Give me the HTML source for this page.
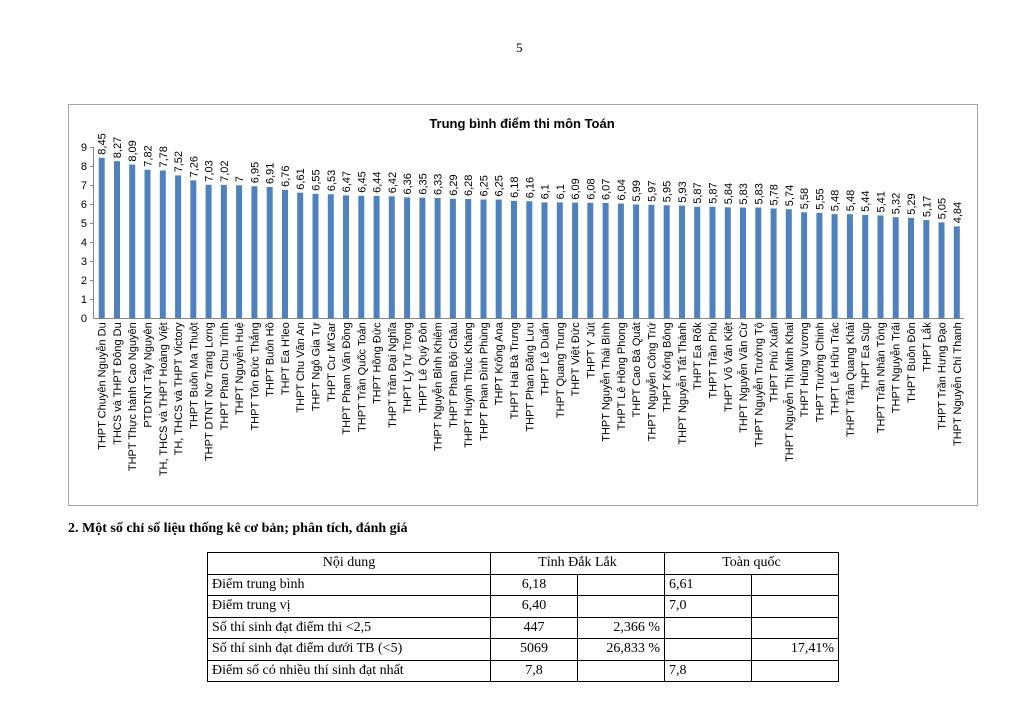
<!DOCTYPE html>
<html><head><meta charset="utf-8"><style>
body{margin:0;width:1024px;height:719px;background:#fff;position:relative;overflow:hidden;font-family:"Liberation Serif",serif}
.pn{position:absolute;left:516px;top:40px;font-size:13px}
.h2{position:absolute;left:68px;top:521px;font-size:14px;font-weight:bold}
table{position:absolute;left:207px;top:552px;border-collapse:collapse;font-size:14px}
td{border:1px solid #000;height:20.5px;padding:0 4px;line-height:20px}
</style></head><body>
<div class="pn">5</div>
<svg width="1024" height="719" style="position:absolute;left:0;top:0" font-family="Liberation Sans, sans-serif">
<rect x="68.5" y="104.5" width="909" height="401" fill="#fff" stroke="#a6a6a6"/>
<text x="522" y="128" text-anchor="middle" font-size="13" font-weight="bold">Trung bình điểm thi môn Toán</text>
<g font-size="11" fill="#000" text-anchor="end">
<text x="87" y="322">0</text><text x="87" y="303">1</text><text x="87" y="284">2</text><text x="87" y="265">3</text><text x="87" y="246">4</text><text x="87" y="227">5</text><text x="87" y="208">6</text><text x="87" y="189">7</text><text x="87" y="170">8</text><text x="87" y="151">9</text>
</g>
<g stroke="#868686" stroke-width="1">
<line x1="93.5" y1="147" x2="93.5" y2="318.5"/>
<line x1="93.5" y1="318.5" x2="964" y2="318.5"/>
<line x1="90" y1="147.5" x2="93.5" y2="147.5"/><line x1="90" y1="166.5" x2="93.5" y2="166.5"/><line x1="90" y1="185.5" x2="93.5" y2="185.5"/><line x1="90" y1="204.5" x2="93.5" y2="204.5"/><line x1="90" y1="223.5" x2="93.5" y2="223.5"/><line x1="90" y1="242.5" x2="93.5" y2="242.5"/><line x1="90" y1="261.5" x2="93.5" y2="261.5"/><line x1="90" y1="280.5" x2="93.5" y2="280.5"/><line x1="90" y1="299.5" x2="93.5" y2="299.5"/>
</g>
<g font-size="11" fill="#000">
<g transform="translate(101.7,318.3)"><rect x="-3" width="6" height="8.45" transform="scale(1,-19)" fill="#4f81bd"/><text transform="rotate(-90)" x="163.6" y="4">8,45</text><text transform="rotate(-90)" x="-4" y="4" text-anchor="end">THPT Chuyên Nguyễn Du</text></g>
<g transform="translate(117,318.3)"><rect x="-3" width="6" height="8.27" transform="scale(1,-19)" fill="#4f81bd"/><text transform="rotate(-90)" x="160.1" y="4">8,27</text><text transform="rotate(-90)" x="-4" y="4" text-anchor="end">THCS và THPT Đông Du</text></g>
<g transform="translate(132.2,318.3)"><rect x="-3" width="6" height="8.09" transform="scale(1,-19)" fill="#4f81bd"/><text transform="rotate(-90)" x="156.7" y="4">8,09</text><text transform="rotate(-90)" x="-4" y="4" text-anchor="end">THPT Thực hành Cao Nguyên</text></g>
<g transform="translate(147.5,318.3)"><rect x="-3" width="6" height="7.82" transform="scale(1,-19)" fill="#4f81bd"/><text transform="rotate(-90)" x="151.6" y="4">7,82</text><text transform="rotate(-90)" x="-4" y="4" text-anchor="end">PTDTNT Tây Nguyên</text></g>
<g transform="translate(162.8,318.3)"><rect x="-3" width="6" height="7.78" transform="scale(1,-19)" fill="#4f81bd"/><text transform="rotate(-90)" x="150.8" y="4">7,78</text><text transform="rotate(-90)" x="-4" y="4" text-anchor="end">TH, THCS và THPT Hoàng Việt</text></g>
<g transform="translate(178.1,318.3)"><rect x="-3" width="6" height="7.52" transform="scale(1,-19)" fill="#4f81bd"/><text transform="rotate(-90)" x="145.9" y="4">7,52</text><text transform="rotate(-90)" x="-4" y="4" text-anchor="end">TH, THCS và THPT Victory</text></g>
<g transform="translate(193.3,318.3)"><rect x="-3" width="6" height="7.26" transform="scale(1,-19)" fill="#4f81bd"/><text transform="rotate(-90)" x="140.9" y="4">7,26</text><text transform="rotate(-90)" x="-4" y="4" text-anchor="end">THPT Buôn Ma Thuột</text></g>
<g transform="translate(208.6,318.3)"><rect x="-3" width="6" height="7.03" transform="scale(1,-19)" fill="#4f81bd"/><text transform="rotate(-90)" x="136.6" y="4">7,03</text><text transform="rotate(-90)" x="-4" y="4" text-anchor="end">THPT DTNT Nơ Trang Lơng</text></g>
<g transform="translate(223.9,318.3)"><rect x="-3" width="6" height="7.02" transform="scale(1,-19)" fill="#4f81bd"/><text transform="rotate(-90)" x="136.4" y="4">7,02</text><text transform="rotate(-90)" x="-4" y="4" text-anchor="end">THPT Phan Chu Trinh</text></g>
<g transform="translate(239.1,318.3)"><rect x="-3" width="6" height="7" transform="scale(1,-19)" fill="#4f81bd"/><text transform="rotate(-90)" x="136" y="4">7</text><text transform="rotate(-90)" x="-4" y="4" text-anchor="end">THPT Nguyễn Huệ</text></g>
<g transform="translate(254.4,318.3)"><rect x="-3" width="6" height="6.95" transform="scale(1,-19)" fill="#4f81bd"/><text transform="rotate(-90)" x="135.1" y="4">6,95</text><text transform="rotate(-90)" x="-4" y="4" text-anchor="end">THPT Tôn Đức Thắng</text></g>
<g transform="translate(269.7,318.3)"><rect x="-3" width="6" height="6.91" transform="scale(1,-19)" fill="#4f81bd"/><text transform="rotate(-90)" x="134.3" y="4">6,91</text><text transform="rotate(-90)" x="-4" y="4" text-anchor="end">THPT Buôn Hồ</text></g>
<g transform="translate(285,318.3)"><rect x="-3" width="6" height="6.76" transform="scale(1,-19)" fill="#4f81bd"/><text transform="rotate(-90)" x="131.4" y="4">6,76</text><text transform="rotate(-90)" x="-4" y="4" text-anchor="end">THPT Ea H'leo</text></g>
<g transform="translate(300.2,318.3)"><rect x="-3" width="6" height="6.61" transform="scale(1,-19)" fill="#4f81bd"/><text transform="rotate(-90)" x="128.6" y="4">6,61</text><text transform="rotate(-90)" x="-4" y="4" text-anchor="end">THPT Chu Văn An</text></g>
<g transform="translate(315.5,318.3)"><rect x="-3" width="6" height="6.55" transform="scale(1,-19)" fill="#4f81bd"/><text transform="rotate(-90)" x="127.5" y="4">6,55</text><text transform="rotate(-90)" x="-4" y="4" text-anchor="end">THPT Ngô Gia Tự</text></g>
<g transform="translate(330.8,318.3)"><rect x="-3" width="6" height="6.53" transform="scale(1,-19)" fill="#4f81bd"/><text transform="rotate(-90)" x="127.1" y="4">6,53</text><text transform="rotate(-90)" x="-4" y="4" text-anchor="end">THPT Cư M'Gar</text></g>
<g transform="translate(346,318.3)"><rect x="-3" width="6" height="6.47" transform="scale(1,-19)" fill="#4f81bd"/><text transform="rotate(-90)" x="125.9" y="4">6,47</text><text transform="rotate(-90)" x="-4" y="4" text-anchor="end">THPT Phạm Văn Đồng</text></g>
<g transform="translate(361.3,318.3)"><rect x="-3" width="6" height="6.45" transform="scale(1,-19)" fill="#4f81bd"/><text transform="rotate(-90)" x="125.6" y="4">6,45</text><text transform="rotate(-90)" x="-4" y="4" text-anchor="end">THPT Trần Quốc Toản</text></g>
<g transform="translate(376.6,318.3)"><rect x="-3" width="6" height="6.44" transform="scale(1,-19)" fill="#4f81bd"/><text transform="rotate(-90)" x="125.4" y="4">6,44</text><text transform="rotate(-90)" x="-4" y="4" text-anchor="end">THPT Hồng Đức</text></g>
<g transform="translate(391.8,318.3)"><rect x="-3" width="6" height="6.42" transform="scale(1,-19)" fill="#4f81bd"/><text transform="rotate(-90)" x="125" y="4">6,42</text><text transform="rotate(-90)" x="-4" y="4" text-anchor="end">THPT Trần Đại Nghĩa</text></g>
<g transform="translate(407.1,318.3)"><rect x="-3" width="6" height="6.36" transform="scale(1,-19)" fill="#4f81bd"/><text transform="rotate(-90)" x="123.8" y="4">6,36</text><text transform="rotate(-90)" x="-4" y="4" text-anchor="end">THPT Lý Tự Trọng</text></g>
<g transform="translate(422.4,318.3)"><rect x="-3" width="6" height="6.35" transform="scale(1,-19)" fill="#4f81bd"/><text transform="rotate(-90)" x="123.7" y="4">6,35</text><text transform="rotate(-90)" x="-4" y="4" text-anchor="end">THPT Lê Quý Đôn</text></g>
<g transform="translate(437.6,318.3)"><rect x="-3" width="6" height="6.33" transform="scale(1,-19)" fill="#4f81bd"/><text transform="rotate(-90)" x="123.3" y="4">6,33</text><text transform="rotate(-90)" x="-4" y="4" text-anchor="end">THPT Nguyễn Bỉnh Khiêm</text></g>
<g transform="translate(452.9,318.3)"><rect x="-3" width="6" height="6.29" transform="scale(1,-19)" fill="#4f81bd"/><text transform="rotate(-90)" x="122.5" y="4">6,29</text><text transform="rotate(-90)" x="-4" y="4" text-anchor="end">THPT Phan Bội Châu</text></g>
<g transform="translate(468.2,318.3)"><rect x="-3" width="6" height="6.28" transform="scale(1,-19)" fill="#4f81bd"/><text transform="rotate(-90)" x="122.3" y="4">6,28</text><text transform="rotate(-90)" x="-4" y="4" text-anchor="end">THPT Huỳnh Thúc Kháng</text></g>
<g transform="translate(483.5,318.3)"><rect x="-3" width="6" height="6.25" transform="scale(1,-19)" fill="#4f81bd"/><text transform="rotate(-90)" x="121.8" y="4">6,25</text><text transform="rotate(-90)" x="-4" y="4" text-anchor="end">THPT Phan Đình Phùng</text></g>
<g transform="translate(498.7,318.3)"><rect x="-3" width="6" height="6.25" transform="scale(1,-19)" fill="#4f81bd"/><text transform="rotate(-90)" x="121.8" y="4">6,25</text><text transform="rotate(-90)" x="-4" y="4" text-anchor="end">THPT Krông Ana</text></g>
<g transform="translate(514,318.3)"><rect x="-3" width="6" height="6.18" transform="scale(1,-19)" fill="#4f81bd"/><text transform="rotate(-90)" x="120.4" y="4">6,18</text><text transform="rotate(-90)" x="-4" y="4" text-anchor="end">THPT Hai Bà Trưng</text></g>
<g transform="translate(529.3,318.3)"><rect x="-3" width="6" height="6.16" transform="scale(1,-19)" fill="#4f81bd"/><text transform="rotate(-90)" x="120" y="4">6,16</text><text transform="rotate(-90)" x="-4" y="4" text-anchor="end">THPT Phan Đăng Lưu</text></g>
<g transform="translate(544.5,318.3)"><rect x="-3" width="6" height="6.1" transform="scale(1,-19)" fill="#4f81bd"/><text transform="rotate(-90)" x="118.9" y="4">6,1</text><text transform="rotate(-90)" x="-4" y="4" text-anchor="end">THPT Lê Duẩn</text></g>
<g transform="translate(559.8,318.3)"><rect x="-3" width="6" height="6.1" transform="scale(1,-19)" fill="#4f81bd"/><text transform="rotate(-90)" x="118.9" y="4">6,1</text><text transform="rotate(-90)" x="-4" y="4" text-anchor="end">THPT Quang Trung</text></g>
<g transform="translate(575.1,318.3)"><rect x="-3" width="6" height="6.09" transform="scale(1,-19)" fill="#4f81bd"/><text transform="rotate(-90)" x="118.7" y="4">6,09</text><text transform="rotate(-90)" x="-4" y="4" text-anchor="end">THPT Việt Đức</text></g>
<g transform="translate(590.3,318.3)"><rect x="-3" width="6" height="6.08" transform="scale(1,-19)" fill="#4f81bd"/><text transform="rotate(-90)" x="118.5" y="4">6,08</text><text transform="rotate(-90)" x="-4" y="4" text-anchor="end">THPT Y Jút</text></g>
<g transform="translate(605.6,318.3)"><rect x="-3" width="6" height="6.07" transform="scale(1,-19)" fill="#4f81bd"/><text transform="rotate(-90)" x="118.3" y="4">6,07</text><text transform="rotate(-90)" x="-4" y="4" text-anchor="end">THPT Nguyễn Thái Bình</text></g>
<g transform="translate(620.9,318.3)"><rect x="-3" width="6" height="6.04" transform="scale(1,-19)" fill="#4f81bd"/><text transform="rotate(-90)" x="117.8" y="4">6,04</text><text transform="rotate(-90)" x="-4" y="4" text-anchor="end">THPT Lê Hồng Phong</text></g>
<g transform="translate(636.1,318.3)"><rect x="-3" width="6" height="5.99" transform="scale(1,-19)" fill="#4f81bd"/><text transform="rotate(-90)" x="116.8" y="4">5,99</text><text transform="rotate(-90)" x="-4" y="4" text-anchor="end">THPT Cao Bá Quát</text></g>
<g transform="translate(651.4,318.3)"><rect x="-3" width="6" height="5.97" transform="scale(1,-19)" fill="#4f81bd"/><text transform="rotate(-90)" x="116.4" y="4">5,97</text><text transform="rotate(-90)" x="-4" y="4" text-anchor="end">THPT Nguyễn Công Trứ</text></g>
<g transform="translate(666.7,318.3)"><rect x="-3" width="6" height="5.95" transform="scale(1,-19)" fill="#4f81bd"/><text transform="rotate(-90)" x="116.1" y="4">5,95</text><text transform="rotate(-90)" x="-4" y="4" text-anchor="end">THPT Krông Bông</text></g>
<g transform="translate(682,318.3)"><rect x="-3" width="6" height="5.93" transform="scale(1,-19)" fill="#4f81bd"/><text transform="rotate(-90)" x="115.7" y="4">5,93</text><text transform="rotate(-90)" x="-4" y="4" text-anchor="end">THPT Nguyễn Tất Thành</text></g>
<g transform="translate(697.2,318.3)"><rect x="-3" width="6" height="5.87" transform="scale(1,-19)" fill="#4f81bd"/><text transform="rotate(-90)" x="114.5" y="4">5,87</text><text transform="rotate(-90)" x="-4" y="4" text-anchor="end">THPT Ea Rốk</text></g>
<g transform="translate(712.5,318.3)"><rect x="-3" width="6" height="5.87" transform="scale(1,-19)" fill="#4f81bd"/><text transform="rotate(-90)" x="114.5" y="4">5,87</text><text transform="rotate(-90)" x="-4" y="4" text-anchor="end">THPT Trần Phú</text></g>
<g transform="translate(727.8,318.3)"><rect x="-3" width="6" height="5.84" transform="scale(1,-19)" fill="#4f81bd"/><text transform="rotate(-90)" x="114" y="4">5,84</text><text transform="rotate(-90)" x="-4" y="4" text-anchor="end">THPT Võ Văn Kiệt</text></g>
<g transform="translate(743,318.3)"><rect x="-3" width="6" height="5.83" transform="scale(1,-19)" fill="#4f81bd"/><text transform="rotate(-90)" x="113.8" y="4">5,83</text><text transform="rotate(-90)" x="-4" y="4" text-anchor="end">THPT Nguyễn Văn Cừ</text></g>
<g transform="translate(758.3,318.3)"><rect x="-3" width="6" height="5.83" transform="scale(1,-19)" fill="#4f81bd"/><text transform="rotate(-90)" x="113.8" y="4">5,83</text><text transform="rotate(-90)" x="-4" y="4" text-anchor="end">THPT Nguyễn Trường Tộ</text></g>
<g transform="translate(773.6,318.3)"><rect x="-3" width="6" height="5.78" transform="scale(1,-19)" fill="#4f81bd"/><text transform="rotate(-90)" x="112.8" y="4">5,78</text><text transform="rotate(-90)" x="-4" y="4" text-anchor="end">THPT Phú Xuân</text></g>
<g transform="translate(788.8,318.3)"><rect x="-3" width="6" height="5.74" transform="scale(1,-19)" fill="#4f81bd"/><text transform="rotate(-90)" x="112.1" y="4">5,74</text><text transform="rotate(-90)" x="-4" y="4" text-anchor="end">THPT Nguyễn Thị Minh Khai</text></g>
<g transform="translate(804.1,318.3)"><rect x="-3" width="6" height="5.58" transform="scale(1,-19)" fill="#4f81bd"/><text transform="rotate(-90)" x="109" y="4">5,58</text><text transform="rotate(-90)" x="-4" y="4" text-anchor="end">THPT Hùng Vương</text></g>
<g transform="translate(819.4,318.3)"><rect x="-3" width="6" height="5.55" transform="scale(1,-19)" fill="#4f81bd"/><text transform="rotate(-90)" x="108.5" y="4">5,55</text><text transform="rotate(-90)" x="-4" y="4" text-anchor="end">THPT Trường Chinh</text></g>
<g transform="translate(834.6,318.3)"><rect x="-3" width="6" height="5.48" transform="scale(1,-19)" fill="#4f81bd"/><text transform="rotate(-90)" x="107.1" y="4">5,48</text><text transform="rotate(-90)" x="-4" y="4" text-anchor="end">THPT Lê Hữu Trác</text></g>
<g transform="translate(849.9,318.3)"><rect x="-3" width="6" height="5.48" transform="scale(1,-19)" fill="#4f81bd"/><text transform="rotate(-90)" x="107.1" y="4">5,48</text><text transform="rotate(-90)" x="-4" y="4" text-anchor="end">THPT Trần Quang Khải</text></g>
<g transform="translate(865.2,318.3)"><rect x="-3" width="6" height="5.44" transform="scale(1,-19)" fill="#4f81bd"/><text transform="rotate(-90)" x="106.4" y="4">5,44</text><text transform="rotate(-90)" x="-4" y="4" text-anchor="end">THPT Ea Súp</text></g>
<g transform="translate(880.5,318.3)"><rect x="-3" width="6" height="5.41" transform="scale(1,-19)" fill="#4f81bd"/><text transform="rotate(-90)" x="105.8" y="4">5,41</text><text transform="rotate(-90)" x="-4" y="4" text-anchor="end">THPT Trần Nhân Tông</text></g>
<g transform="translate(895.7,318.3)"><rect x="-3" width="6" height="5.32" transform="scale(1,-19)" fill="#4f81bd"/><text transform="rotate(-90)" x="104.1" y="4">5,32</text><text transform="rotate(-90)" x="-4" y="4" text-anchor="end">THPT Nguyễn Trãi</text></g>
<g transform="translate(911,318.3)"><rect x="-3" width="6" height="5.29" transform="scale(1,-19)" fill="#4f81bd"/><text transform="rotate(-90)" x="103.5" y="4">5,29</text><text transform="rotate(-90)" x="-4" y="4" text-anchor="end">THPT Buôn Đôn</text></g>
<g transform="translate(926.3,318.3)"><rect x="-3" width="6" height="5.17" transform="scale(1,-19)" fill="#4f81bd"/><text transform="rotate(-90)" x="101.2" y="4">5,17</text><text transform="rotate(-90)" x="-4" y="4" text-anchor="end">THPT Lắk</text></g>
<g transform="translate(941.5,318.3)"><rect x="-3" width="6" height="5.05" transform="scale(1,-19)" fill="#4f81bd"/><text transform="rotate(-90)" x="99" y="4">5,05</text><text transform="rotate(-90)" x="-4" y="4" text-anchor="end">THPT Trần Hưng Đạo</text></g>
<g transform="translate(956.8,318.3)"><rect x="-3" width="6" height="4.84" transform="scale(1,-19)" fill="#4f81bd"/><text transform="rotate(-90)" x="95" y="4">4,84</text><text transform="rotate(-90)" x="-4" y="4" text-anchor="end">THPT Nguyễn Chí Thanh</text></g>
</g>
</svg>
<div class="h2">2. Một số chỉ số liệu thống kê cơ bản; phân tích, đánh giá</div>
<table>
<tr><td style="width:274px;text-align:center">Nội dung</td><td colspan="2" style="text-align:center">Tỉnh Đắk Lắk</td><td colspan="2" style="text-align:center">Toàn quốc</td></tr>
<tr><td>Điểm trung bình</td><td style="width:78px;text-align:center">6,18</td><td style="width:78px"></td><td style="width:78px">6,61</td><td style="width:78px"></td></tr>
<tr><td>Điểm trung vị</td><td style="text-align:center">6,40</td><td></td><td>7,0</td><td></td></tr>
<tr><td>Số thí sinh đạt điểm thi &lt;2,5</td><td style="text-align:center">447</td><td style="text-align:right">2,366 %</td><td></td><td></td></tr>
<tr><td>Số thí sinh đạt điểm dưới TB (&lt;5)</td><td style="text-align:center">5069</td><td style="text-align:right">26,833 %</td><td></td><td style="text-align:right">17,41%</td></tr>
<tr><td>Điểm số có nhiều thí sinh đạt nhất</td><td style="text-align:center">7,8</td><td></td><td>7,8</td><td></td></tr>
</table>
</body></html>
